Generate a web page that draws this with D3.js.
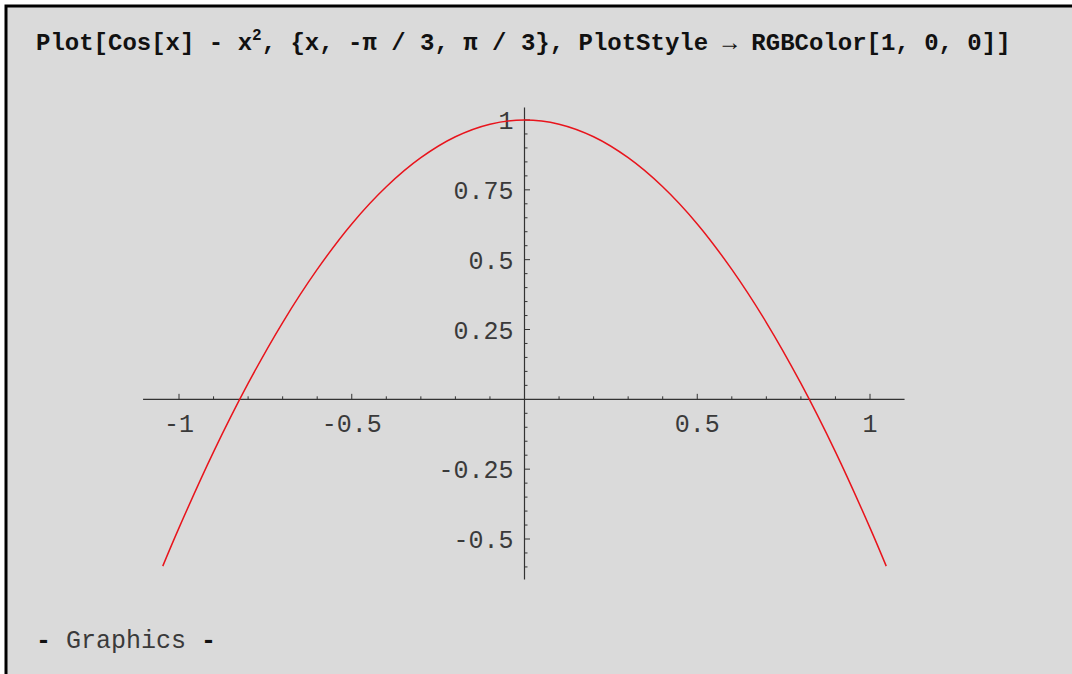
<!DOCTYPE html>
<html>
<head>
<meta charset="utf-8">
<script src="https://cdn.jsdelivr.net/npm/d3@7"></script>
<style>
  html, body { margin: 0; padding: 0; background: #fff; }
  .title { font-family: "Liberation Mono", "DejaVu Sans Mono", monospace; font-weight: bold; fill: #111; }
  .tick-label { font-family: "Liberation Mono", "DejaVu Sans Mono", monospace; fill: #3a3a3a; }
</style>
</head>
<body>
<div id="chart"></div>
<script>
// curve samples
const xs = [-1.047, -1.0, -0.9, -0.8, -0.7, -0.6, -0.5, -0.4, -0.3, -0.2, -0.1, 0,
            0.1, 0.2, 0.3, 0.4, 0.5, 0.6, 0.7, 0.8, 0.9, 1.0, 1.047];
const ys = [-0.597, -0.460, -0.188, 0.057, 0.275, 0.465, 0.628, 0.761, 0.865, 0.940, 0.985, 1.0,
            0.985, 0.940, 0.865, 0.761, 0.628, 0.465, 0.275, 0.057, -0.188, -0.460, -0.597];

const xMajor = [-1, -0.5, 0.5, 1];
const xLabels = ["-1", "-0.5", "0.5", "1"];
const yMajor = [1, 0.75, 0.5, 0.25, -0.25, -0.5];
const yLabels = ["1", "0.75", "0.5", "0.25", "-0.25", "-0.5"];

const W = 1072, H = 674;

const svg = d3.select("#chart").append("svg")
  .attr("width", W).attr("height", H);

// notebook cell panel
svg.append("rect")
  .attr("x", 6).attr("y", 6)
  .attr("width", W + 20).attr("height", H + 20)
  .attr("fill", "#dadada")
  .attr("stroke", "#000").attr("stroke-width", 3);

// input line
const title = svg.append("text")
  .attr("class", "title")
  .attr("x", 36).attr("y", 50)
  .attr("font-size", 24);
title.append("tspan").text("Plot[Cos[x] - x");
title.append("tspan").attr("dy", -10).attr("font-size", 16).text("2");
title.append("tspan").attr("dy", 10).text(", {x, -\u03c0 / 3, \u03c0 / 3}, PlotStyle \u2192 RGBColor[1, 0, 0]]");

const x = d3.scaleLinear().domain([-1, 1]).range([179, 870]);
const y = d3.scaleLinear().domain([-0.5, 1]).range([539, 120]);

const g = svg.append("g");
const axisColor = "#333";

// axes
g.append("line")
  .attr("x1", x(-1.104)).attr("x2", x(1.1))
  .attr("y1", y(0)).attr("y2", y(0))
  .attr("stroke", axisColor).attr("stroke-width", 1.2);
g.append("line")
  .attr("x1", x(0)).attr("x2", x(0))
  .attr("y1", y(1.045)).attr("y2", y(-0.645))
  .attr("stroke", axisColor).attr("stroke-width", 1.2);

// x ticks
const xMinor = d3.range(-10, 11).map(d => d / 10).filter(d => d !== 0 && !xMajor.includes(d));
g.selectAll(".xminor").data(xMinor).join("line")
  .attr("x1", d => x(d)).attr("x2", d => x(d))
  .attr("y1", y(0)).attr("y2", y(0) - 3)
  .attr("stroke", axisColor).attr("stroke-width", 1);
g.selectAll(".xmajor").data(xMajor).join("line")
  .attr("x1", d => x(d)).attr("x2", d => x(d))
  .attr("y1", y(0)).attr("y2", y(0) - 5.5)
  .attr("stroke", axisColor).attr("stroke-width", 1);
g.selectAll(".xlab").data(xMajor).join("text")
  .attr("class", "tick-label")
  .attr("x", d => x(d)).attr("y", y(0) + 33)
  .attr("text-anchor", "middle")
  .attr("font-size", 25)
  .text((d, i) => xLabels[i]);

// y ticks
const yMinor = d3.range(-12, 21).map(d => d / 20).filter(d => d !== 0 && !yMajor.includes(d));
g.selectAll(".yminor").data(yMinor).join("line")
  .attr("x1", x(0)).attr("x2", x(0) + 3)
  .attr("y1", d => y(d)).attr("y2", d => y(d))
  .attr("stroke", axisColor).attr("stroke-width", 1);
g.selectAll(".ymajor").data(yMajor).join("line")
  .attr("x1", x(0)).attr("x2", x(0) + 5.5)
  .attr("y1", d => y(d)).attr("y2", d => y(d))
  .attr("stroke", axisColor).attr("stroke-width", 1);
g.selectAll(".ylab").data(yMajor).join("text")
  .attr("class", "tick-label")
  .attr("x", x(0) - 11).attr("y", d => y(d) + 9)
  .attr("text-anchor", "end")
  .attr("font-size", 25)
  .text((d, i) => yLabels[i]);

// curve
const line = d3.line()
  .x(d => x(d[0])).y(d => y(d[1]))
  .curve(d3.curveCatmullRom);
g.append("path")
  .datum(xs.map((v, i) => [v, ys[i]]))
  .attr("d", line)
  .attr("fill", "none")
  .attr("stroke", "#e8141c")
  .attr("stroke-width", 1.5);

// output label
const out = svg.append("text")
  .attr("class", "tick-label")
  .attr("x", 36).attr("y", 648)
  .attr("font-size", 25);
out.append("tspan").attr("font-weight", "bold").attr("fill", "#111").text("-");
out.append("tspan").text(" Graphics ");
out.append("tspan").attr("font-weight", "bold").attr("fill", "#111").text("-");
</script>
</body>
</html>
